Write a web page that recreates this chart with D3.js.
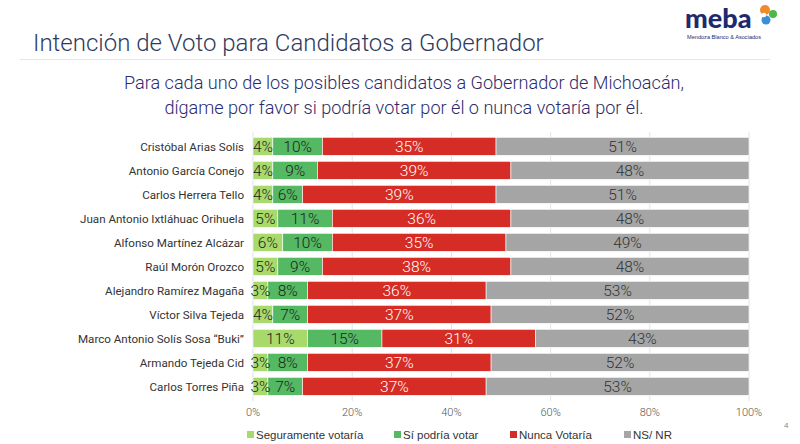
<!DOCTYPE html>
<html>
<head>
<meta charset="utf-8">
<script src="https://cdn.jsdelivr.net/npm/d3@7"></script>
<style>
  body { margin: 0; background: #fff; }
  svg { display: block; }
</style>
</head>
<body>
<div id="chart"></div>
<script>
const candidates = ["Cristóbal Arias Solís","Antonio García Conejo","Carlos Herrera Tello","Juan Antonio Ixtláhuac Orihuela","Alfonso Martínez Alcázar","Raúl Morón Orozco","Alejandro Ramírez Magaña","Víctor Silva Tejeda","Marco Antonio Solís Sosa “Buki”","Armando Tejeda Cid","Carlos Torres Piña"];
const seguramente = [4,4,4,5,6,5,3,4,11,3,3];
const podria = [10,9,6,11,10,9,8,7,15,8,7];
const nunca = [35,39,39,36,35,38,36,37,31,37,37];
const nsnr = [51,48,51,48,49,48,53,52,43,52,53];
const seriesNames = ["Seguramente votaría","Sí podría votar","Nunca Votaría","NS/ NR"];
const ticks = [0,20,40,60,80,100];

const width = 800, height = 444;
const colors = ["#a7d96b","#55b862","#d52c25","#a5a5a5"];
const textColors = ["#222","#222","#fff","#333"];

const svg = d3.select("#chart").append("svg")
  .attr("width", width)
  .attr("height", height);

// header
svg.append("text")
  .attr("x", 33).attr("y", 51)
  .attr("font-family", "Roboto").attr("font-weight", 300)
  .attr("font-size", 24).attr("fill", "#2f3b5e")
  .text("Intención de Voto para Candidatos a Gobernador");

svg.append("line")
  .attr("x1", 20).attr("x2", 770).attr("y1", 59.5).attr("y2", 59.5)
  .attr("stroke", "#e6e6e6").attr("stroke-width", 1);

const sub = ["Para cada uno de los posibles candidatos a Gobernador de Michoacán,",
             "dígame por favor si podría votar por él o nunca votaría por él."];
svg.selectAll(".sub")
  .data(sub)
  .enter().append("text")
    .attr("class", "sub")
    .attr("x", 404)
    .attr("y", (d, i) => 89 + i * 25)
    .attr("text-anchor", "middle")
    .attr("font-family", "Roboto").attr("font-weight", 300)
    .attr("font-size", 18.1).attr("fill", "#2c2a6c")
    .text(d => d);

// logo
const logo = svg.append("g");
logo.append("text")
  .attr("x", 685).attr("y", 28)
  .attr("font-family", "Lato").attr("font-weight", 900)
  .attr("font-size", 27).attr("fill", "#1d2a6e")
  .text("meba");
logo.append("text")
  .attr("x", 687).attr("y", 39)
  .attr("font-family", "Liberation Sans")
  .attr("font-size", 5.6).attr("fill", "#1d2a6e")
  .text("Mendoza Blanco & Asociados");
logo.append("circle").attr("cx", 765).attr("cy", 10).attr("r", 5).attr("fill", "#f08a2c");
logo.append("circle").attr("cx", 773).attr("cy", 14).attr("r", 4).attr("fill", "#4cb848");
logo.append("circle").attr("cx", 766).attr("cy", 20).attr("r", 4.5).attr("fill", "#3a8fd6");
logo.append("circle").attr("cx", 764).attr("cy", 15).attr("r", 2.2).attr("fill", "#fff");

// chart
const x = d3.scaleLinear().domain([0, 100]).range([253, 749]);
const y = d3.scaleBand().domain(candidates).range([134.3, 398.3]).paddingInner(0.25).paddingOuter(0.125);

svg.append("g")
  .selectAll("line")
  .data(ticks)
  .enter().append("line")
    .attr("x1", d => x(d)).attr("x2", d => x(d))
    .attr("y1", 132).attr("y2", 401)
    .attr("stroke", "#dfe3ef").attr("stroke-width", 1);

const rows = candidates.map((c, i) => {
  const vals = [seguramente[i], podria[i], nunca[i], nsnr[i]];
  let acc = 0;
  return vals.map((v, k) => {
    const seg = {name: c, k: k, v: v, x0: acc, x1: acc + v};
    acc += v;
    return seg;
  });
});
const segs = rows.flat();

svg.append("g")
  .selectAll("rect")
  .data(segs)
  .enter().append("rect")
    .attr("x", d => x(d.x0))
    .attr("y", d => y(d.name))
    .attr("width", d => x(d.x1) - x(d.x0))
    .attr("height", y.bandwidth())
    .attr("fill", d => colors[d.k])
    .attr("stroke", "#fff").attr("stroke-width", 0.6);

svg.append("g")
  .selectAll("text")
  .data(segs)
  .enter().append("text")
    .attr("x", d => (x(d.x0) + x(d.x1)) / 2)
    .attr("y", d => y(d.name) + y.bandwidth() / 2 + 5.4)
    .attr("text-anchor", "middle")
    .attr("font-family", "Roboto").attr("font-weight", 300)
    .attr("font-size", 15.5)
    .attr("fill", d => textColors[d.k])
    .text(d => d.v + "%");

// category labels
svg.append("g")
  .selectAll("text")
  .data(candidates)
  .enter().append("text")
    .attr("x", 244)
    .attr("y", d => y(d) + y.bandwidth() / 2 + 4.3)
    .attr("text-anchor", "end")
    .attr("font-family", "Roboto")
    .attr("font-size", 11.6).attr("fill", "#333")
    .text(d => d);

// x tick labels
svg.append("g")
  .selectAll("text")
  .data(ticks)
  .enter().append("text")
    .attr("x", d => x(d))
    .attr("y", 416)
    .attr("text-anchor", "middle")
    .attr("font-family", "Roboto").attr("font-weight", 300)
    .attr("font-size", 11).attr("fill", "#555")
    .text(d => d + "%");

// legend
const legendX = [247, 394, 510, 624];
const legend = svg.append("g");
legend.selectAll("rect")
  .data(seriesNames)
  .enter().append("rect")
    .attr("x", (d, i) => legendX[i])
    .attr("y", 431)
    .attr("width", 7).attr("height", 7)
    .attr("fill", (d, i) => colors[i]);
legend.selectAll("text")
  .data(seriesNames)
  .enter().append("text")
    .attr("x", (d, i) => legendX[i] + 9)
    .attr("y", 439)
    .attr("font-family", "Liberation Sans")
    .attr("font-size", 11.5).attr("fill", "#333")
    .text(d => d);

svg.append("text")
  .attr("x", 784).attr("y", 428)
  .attr("font-family", "Liberation Sans")
  .attr("font-size", 8).attr("fill", "#888")
  .text("4");
</script>
</body>
</html>
